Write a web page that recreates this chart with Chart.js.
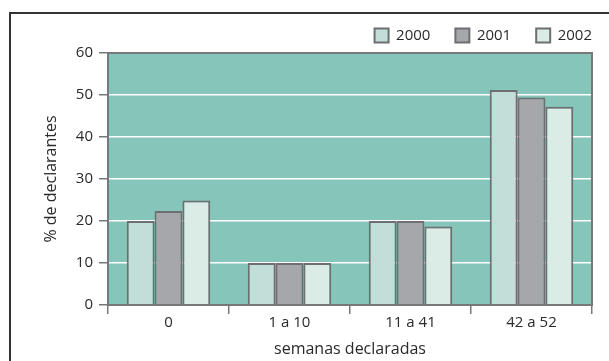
<!DOCTYPE html>
<html>
<head>
<meta charset="utf-8">
<script src="https://cdn.jsdelivr.net/npm/chart.js@4"></script>
<style>
  html, body { margin: 0; padding: 0; background: #fff; }
  #wrap { width: 609px; height: 361px; position: relative; }
</style>
</head>
<body>
<div id="wrap"><canvas id="myChart"></canvas></div>
<script>
const categories = ['0', '1 a 10', '11 a 41', '42 a 52']
const years = ['2000', '2001', '2002']
const values2000 = [20, 10, 20, 51.2]
const values2001 = [22.4, 10, 20, 49.4]
const values2002 = [24.9, 10, 18.7, 47.2]
const yTicks = [0, 10, 20, 30, 40, 50, 60]

const fills = ['#c1ded8', '#a6a7ab', '#dbece6']
const edge = '#6e6f71'
const textColor = '#2a2a2a'
const font = { family: "'Open Sans', sans-serif", size: 15 }
const titleFont = { family: "'Open Sans', sans-serif", size: 16 }

// teal plot background + gray frame around it, and the page frame (top + left)
const plotBox = {
  id: 'plotBox',
  beforeDraw(chart) {
    const { ctx, chartArea: a } = chart
    ctx.save()
    ctx.fillStyle = '#86c5b9'
    ctx.fillRect(a.left, a.top, a.right - a.left, a.bottom - a.top)
    ctx.strokeStyle = '#333333'
    ctx.lineWidth = 2
    ctx.beginPath()
    ctx.moveTo(10, 361)
    ctx.lineTo(10, 13)
    ctx.lineTo(609, 13)
    ctx.stroke()
    ctx.restore()
  },
  afterDatasetsDraw(chart) {
    const { ctx, chartArea: a } = chart
    ctx.save()
    ctx.strokeStyle = '#777879'
    ctx.lineWidth = 2
    ctx.strokeRect(a.left, a.top, a.right - a.left, a.bottom - a.top)
    ctx.restore()
  }
}

const ctx = document.getElementById('myChart')
new Chart(ctx, {
  type: 'bar',
  data: {
    labels: categories,
    datasets: [values2000, values2001, values2002].map((d, i) => ({
      label: years[i],
      data: d,
      backgroundColor: fills[i],
      borderColor: edge,
      borderWidth: 2,
      categoryPercentage: 0.69,
      barPercentage: 1
    }))
  },
  options: {
    responsive: true,
    maintainAspectRatio: false,
    animation: false,
    layout: { padding: { left: 36, right: -8, top: 3, bottom: 2 } },
    plugins: {
      tooltip: { enabled: false },
      legend: {
        position: 'top',
        align: 'end',
        labels: {
          color: textColor,
          font: font,
          boxWidth: 14,
          boxHeight: 14,
          padding: 25
        }
      }
    },
    scales: {
      x: {
        offset: true,
        grid: {
          offset: true,
          drawOnChartArea: false,
          tickColor: '#777879',
          tickLength: 9,
          lineWidth: 1.5
        },
        border: { display: false },
        ticks: { color: textColor, font: font, padding: 0 },
        title: {
          display: true,
          text: 'semanas declaradas',
          color: textColor,
          font: titleFont,
          padding: { top: 0, bottom: 0 }
        },
        afterFit(scale) { scale.height = 54 }
      },
      y: {
        min: 0,
        max: 60,
        afterBuildTicks(scale) { scale.ticks = yTicks.map(v => ({ value: v })) },
        grid: {
          color: c => (c.tick && (c.tick.value === 0 || c.tick.value === 60)) ? 'rgba(0,0,0,0)' : '#ffffff',
          tickColor: '#777879',
          lineWidth: 1.5,
          tickLength: 9
        },
        border: { display: false },
        ticks: { color: textColor, font: font, padding: 6 },
        title: {
          display: true,
          text: '% de declarantes',
          color: textColor,
          font: titleFont,
          padding: { top: 6, bottom: 0 }
        },
        afterFit(scale) { scale.width = 72 }
      },
      // empty spacer on the right so the plot ends under the legend
      y2: {
        position: 'right',
        display: true,
        grid: { display: false },
        border: { display: false },
        ticks: { display: false },
        afterFit(scale) { scale.width = 25 }
      }
    }
  },
  plugins: [plotBox]
})
</script>
</body>
</html>
